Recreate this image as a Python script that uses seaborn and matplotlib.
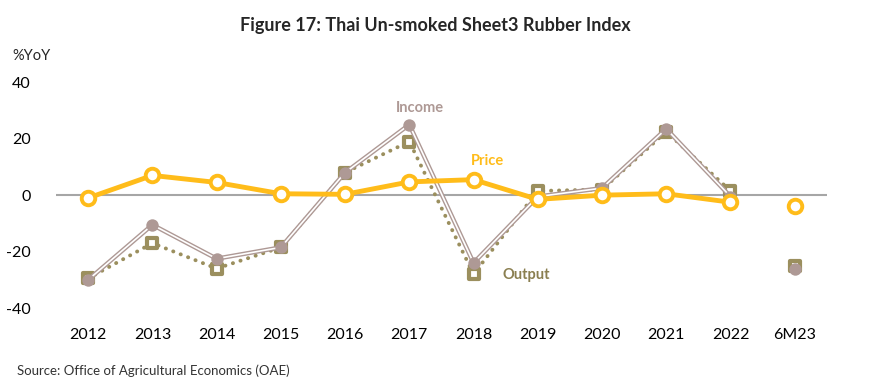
import matplotlib
matplotlib.use("Agg")
import matplotlib.pyplot as plt
import numpy as np
import pandas as pd
import seaborn as sns

years = ["2012", "2013", "2014", "2015", "2016", "2017", "2018", "2019", "2020", "2021", "2022", "6M23"]
price = [-1.0, 7.0, 4.5, 0.5, 0.3, 4.7, 5.5, -1.5, 0.0, 0.5, -2.5, -4.0]
income = [-30.0, -10.5, -22.5, -18.5, 8.0, 25.0, -24.0, -0.5, 2.5, 23.5, -0.5, -26.0]
output = [-29.5, -17.0, -26.0, -18.5, 8.0, 19.0, -28.0, 1.5, 2.0, 22.5, 1.5, -25.0]

sns.set_theme(style="white")
plt.rcParams['font.family'] = ['Lato', 'DejaVu Sans']
plt.rcParams['axes.unicode_minus'] = False

df = pd.DataFrame({"x": np.arange(len(years)), "price": price, "income": income, "output": output})
yearly = df.iloc[:11]  # 6M23 is not joined to the annual line

c_price = "#ffbc1a"
c_income = "#ae9995"
c_output = "#9b8f5e"

fig = plt.figure(figsize=(8.7, 3.88), dpi=100)
ax = fig.add_axes([0.0644, 0.206, 0.886, 0.582])

ax.axhline(0, color="#a6a6a6", lw=1.5, zorder=1)

# output: dotted line, square markers with white centre
sns.lineplot(data=yearly, x="x", y="output", ax=ax, color=c_output, lw=2.8, zorder=2)
ln = ax.lines[-1]
ln.set_linestyle((0, (0.05, 2.0)))
ln.set_dash_capstyle("round")
sns.scatterplot(data=df, x="x", y="output", ax=ax, marker="s", s=48, color="white",
                edgecolor=c_output, linewidth=3.0, zorder=3)

# income: double (outlined) line, filled circles
sns.lineplot(data=yearly, x="x", y="income", ax=ax, color=c_income, lw=3.2, zorder=4)
sns.lineplot(data=yearly, x="x", y="income", ax=ax, color="white", lw=1.2, zorder=4)
sns.scatterplot(data=df, x="x", y="income", ax=ax, marker="o", s=80, color=c_income,
                edgecolor=c_income, linewidth=0, zorder=5)

# price: thick line, hollow circles
sns.lineplot(data=yearly, x="x", y="price", ax=ax, color=c_price, lw=3.5, zorder=6)
sns.scatterplot(data=df, x="x", y="price", ax=ax, marker="o", s=95, color="white",
                edgecolor=c_price, linewidth=2.8, zorder=7)

ax.set_xlim(-0.5, len(years) - 0.5)
ax.set_ylim(-40, 40)
ax.set_xticks(np.arange(len(years)))
ax.set_xticklabels(years)
ax.set_yticks([-40, -20, 0, 20, 40])
ax.tick_params(axis="x", labelsize=11.5, pad=14, length=0, colors="black")
ax.tick_params(axis="y", labelsize=11.5, pad=18, length=0, colors="black")
ax.set_xlabel("")
ax.set_ylabel("")
for s in ax.spines.values():
    s.set_visible(False)
if ax.get_legend():
    ax.get_legend().remove()

ax.text(5.16, 30.8, "Income", color=c_income, fontsize=10.5, fontweight="bold", ha="center", va="center")
ax.text(6.22, 12.0, "Price", color=c_price, fontsize=10.5, fontweight="bold", ha="center", va="center")
ax.text(6.45, -28.3, "Output", color="#8a7f50", fontsize=10.5, fontweight="bold", ha="left", va="center")

fig.text(0.5, 0.935, "Figure 17: Thai Un-smoked Sheet3 Rubber Index", ha="center", va="center",
         fontsize=13, fontweight="bold")
fig.text(0.014, 0.855, "%YoY", fontsize=10.5, ha="left", va="center")
fig.text(0.02, 0.045, "Source: Office of Agricultural Economics (OAE)", fontsize=9.5, ha="left",
         va="center", color="#333333")

fig.savefig("out.png", dpi=100)
